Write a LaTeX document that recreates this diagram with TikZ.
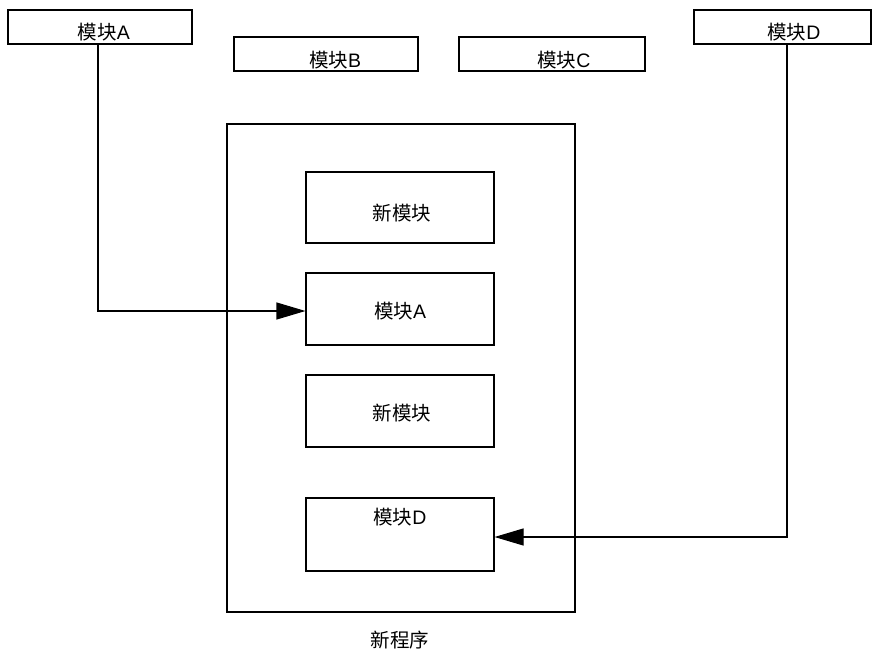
\documentclass[tikz,border=0pt]{standalone}
\usepackage{fontspec}
\setmainfont{Liberation Sans}
\newfontfamily\cjk{Noto Sans CJK SC}
\usetikzlibrary{arrows.meta}
\newcommand{\zh}[1]{{\cjk #1}}
\begin{document}
\begin{tikzpicture}[x=1pt,y=-1pt,line width=1.1pt,
  box/.style={draw, inner sep=0pt},
  lbl/.style={inner sep=0pt, font=\fontsize{19.5}{22}\selectfont},
  link/.style={-{Triangle[length=29pt,width=17pt]}}]
\useasboundingbox (0,0) rectangle (872,655);

% top row of old modules
\node[box, minimum width=184pt, minimum height=34pt] (boxA) at (100,27) {};
\node[box, minimum width=184pt, minimum height=34pt] (boxB) at (326,54) {};
\node[box, minimum width=186pt, minimum height=34pt] (boxC) at (552,54) {};
\node[box, minimum width=177pt, minimum height=34pt] (boxD) at (782.5,27) {};
\node[lbl] (tA) at (104,32) {\zh{模块}A};
\node[lbl] (tB) at (335,60) {\zh{模块}B};
\node[lbl] (tC) at (564,60) {\zh{模块}C};
\node[lbl] (tD) at (794,32) {\zh{模块}D};

% new program frame
\node[box, minimum width=348pt, minimum height=488pt] (prog) at (401,368) {};
\node[lbl] (tProg) at (400,640) {\zh{新程序}};

% modules inside the new program
\node[box, minimum width=188pt, minimum height=71pt] (in1) at (400,207.5) {};
\node[box, minimum width=188pt, minimum height=72pt] (inA) at (400,309) {};
\node[box, minimum width=188pt, minimum height=72pt] (in2) at (400,411) {};
\node[box, minimum width=188pt, minimum height=73pt] (inD) at (400,534.5) {};
\node[lbl] (t1) at (402,213) {\zh{新模块}};
\node[lbl] (t2) at (400,311) {\zh{模块}A};
\node[lbl] (t3) at (402,413) {\zh{新模块}};
\node[lbl] (t4) at (400,517) {\zh{模块}D};

% reuse connectors (y axis points down, so a downward shift is negative)
\draw[link] ([xshift=-2pt]boxA.south) |- ([yshift=-2pt]inA.west);
\draw[link] ([xshift=4.5pt]boxD.south) |- ([yshift=-2.5pt]inD.east);
\end{tikzpicture}
\end{document}
